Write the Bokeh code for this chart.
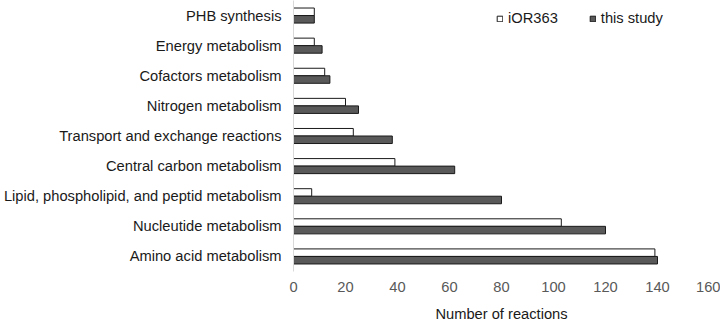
from bokeh.plotting import figure
from bokeh.models import ColumnDataSource, FactorRange, Legend, LegendItem
from bokeh.transform import dodge
from bokeh.embed import file_html
from bokeh.resources import INLINE

# Reaction counts per subsystem (top to bottom as displayed)
categories = [
    "PHB synthesis",
    "Energy metabolism",
    "Cofactors metabolism",
    "Nitrogen metabolism",
    "Transport and exchange reactions",
    "Central carbon metabolism",
    "Lipid, phospholipid, and peptid metabolism",
    "Nucleutide metabolism",
    "Amino acid metabolism",
]
ior363 = [8, 8, 12, 20, 23, 39, 7, 103, 139]
this_study = [8, 11, 14, 25, 38, 62, 80, 120, 140]
x_ticks = [0, 20, 40, 60, 80, 100, 120, 140, 160]

source = ColumnDataSource(dict(cat=categories, ior=ior363, study=this_study))

FONT = "Liberation Sans"
FS = "14.7px"

p = figure(
    width=720, height=324,
    y_range=FactorRange(factors=list(reversed(categories)), range_padding=0),
    x_range=(0, 160),
    output_backend="svg", toolbar_location=None,
    min_border_left=293, min_border_right=11, min_border_top=0, min_border_bottom=0,
    outline_line_color=None,
)

r_ior = p.hbar(y=dodge("cat", 0.125, range=p.y_range), right="ior", left=0, height=0.25,
               source=source, fill_color="white", line_color="#1a1a1a", line_width=1)
r_study = p.hbar(y=dodge("cat", -0.125, range=p.y_range), right="study", left=0, height=0.25,
                 source=source, fill_color="#595959", line_color="#1a1a1a", line_width=1)

p.xgrid.grid_line_color = None
p.ygrid.grid_line_color = None

p.xaxis.ticker = x_ticks
p.xaxis.axis_line_color = None
p.xaxis.major_tick_line_color = None
p.xaxis.minor_tick_line_color = None
p.xaxis.major_tick_out = 0
p.xaxis.major_tick_in = 0
p.xaxis.major_label_text_color = "#595959"
p.xaxis.major_label_text_font = FONT
p.xaxis.major_label_text_font_size = FS
p.xaxis.major_label_standoff = 10
p.xaxis.axis_label = "Number of reactions"
p.xaxis.axis_label_text_font = FONT
p.xaxis.axis_label_text_font_size = FS
p.xaxis.axis_label_text_font_style = "normal"
p.xaxis.axis_label_text_color = "#1a1a1a"
p.xaxis.axis_label_standoff = 11

p.yaxis.axis_line_color = "#d9d9d9"
p.yaxis.major_tick_line_color = None
p.yaxis.minor_tick_line_color = None
p.yaxis.major_tick_out = 0
p.yaxis.major_tick_in = 0
p.yaxis.major_label_text_font = FONT
p.yaxis.major_label_text_font_size = FS
p.yaxis.major_label_text_color = "#1a1a1a"
p.yaxis.major_label_standoff = 12

legend = Legend(
    items=[LegendItem(label="iOR363", renderers=[r_ior]),
           LegendItem(label="this study", renderers=[r_study])],
    orientation="horizontal",
    location=(203, 245),
    glyph_width=7, glyph_height=7,
    label_standoff=5, spacing=31,
    padding=0, margin=0,
    label_text_font=FONT, label_text_font_size=FS, label_text_color="#1a1a1a",
    background_fill_alpha=0, border_line_color=None,
)
p.add_layout(legend)

open("out.html", "w").write(file_html(p, INLINE))
